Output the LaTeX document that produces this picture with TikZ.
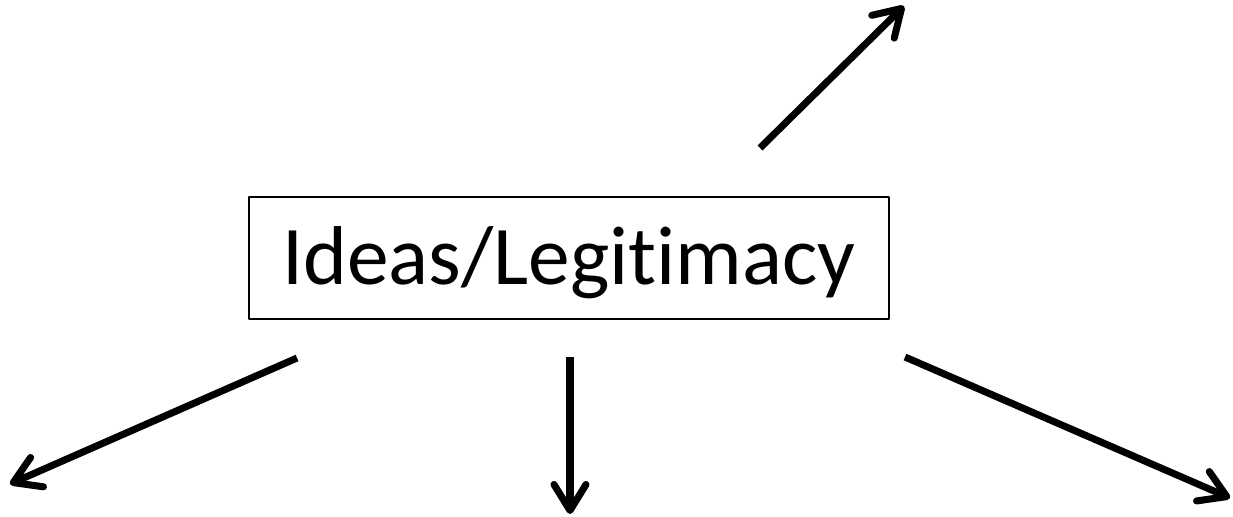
\documentclass[tikz,border=0pt]{standalone}
\usepackage{fontspec}
\setmainfont{Carlito}[Ligatures=NoCommon]
\usetikzlibrary{arrows.meta}
\begin{document}
\begin{tikzpicture}[>={Straight Barb[round,length=0.52cm,width=0.64cm]},line join=round,
	arrow/.style={->,line width=4pt},
	mainbox/.style={draw,line width=0.9pt,minimum width=12.8cm,minimum height=2.44cm,inner sep=0pt,
		font=\fontsize{47.5}{52}\selectfont,text height=30.5pt,text depth=0pt}]
	\useasboundingbox (0,0) rectangle (24.66,10.32);
	\node [mainbox] (ideas) at (11.38,5.16) {Ideas/Legitimacy};
	\coordinate (ur0) at (15.2,7.36);   \coordinate (ur) at (18.08,10.2);
	\coordinate (dl0) at (5.94,3.16);   \coordinate (dl) at (0.2,0.64);
	\coordinate (dd0) at (11.4,3.18);   \coordinate (dd) at (11.4,0.04);
	\coordinate (dr0) at (18.1,3.18);   \coordinate (dr) at (24.6,0.36);
	\draw [arrow] (ur0)--(ur);
	\draw [arrow] (dl0)--(dl);
	\draw [arrow] (dd0)--(dd);
	\draw [arrow] (dr0)--(dr);
\end{tikzpicture}
\end{document}
